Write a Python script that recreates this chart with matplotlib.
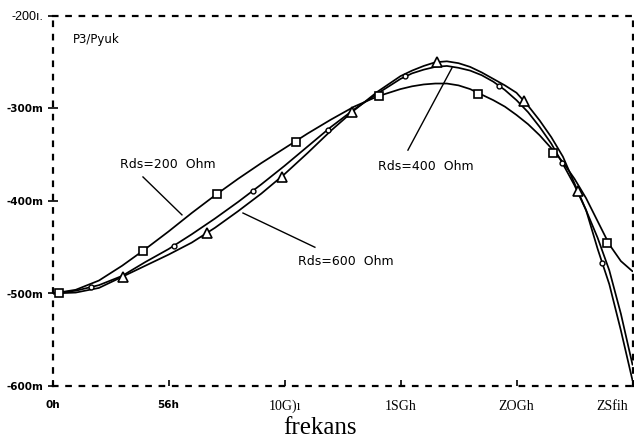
import matplotlib
matplotlib.use("Agg")
import matplotlib.pyplot as plt
from matplotlib.transforms import ScaledTranslation

# Frequency grid (GHz) and traced P3/Pyuk values (m) for each Rds
freq = [0, 1, 2, 3, 4, 5, 6, 7, 8, 9, 10, 11, 12, 13, 14, 15, 15.5, 16, 16.5,
        17, 17.5, 18, 18.5, 19, 19.5, 20, 20.5, 21, 21.5, 22, 22.5, 23, 23.5,
        24, 24.5, 25]
rds200 = [-500, -496, -486, -470, -452, -433, -413, -394, -376, -359, -343,
          -327, -312, -298, -287, -279, -276, -274, -273, -273, -275, -279,
          -285, -291, -298, -307, -317, -329, -343, -358, -376, -397, -422,
          -447, -465, -476]
rds400 = [-500, -497, -491, -481, -466, -452, -436, -419, -401, -382, -362,
          -341, -320, -301, -284, -268, -262, -258, -255, -254, -256, -259,
          -264, -271, -280, -291, -304, -320, -338, -360, -383, -410, -452,
          -490, -540, -594]
rds600 = [-500, -499, -494, -482, -470, -458, -445, -429, -411, -392, -371,
          -348, -324, -302, -282, -265, -259, -254, -250, -249, -251, -255,
          -261, -268, -275, -283, -297, -313, -331, -352, -381, -410, -440,
          -475, -522, -577]

# Marker positions along each trace
sq_f = [0.3, 3.90, 7.09, 10.50, 14.07, 18.34, 21.57, 23.90]
sq_v = [-499, -454, -392, -336, -286, -284, -348, -445]
ci_f = [1.68, 5.22, 8.64, 11.87, 15.20, 19.26, 21.98, 23.70]
ci_v = [-493, -449, -389, -323, -265, -276, -359, -467]
tr_f = [3.02, 6.65, 9.89, 12.91, 16.58, 20.34, 22.63]
tr_v = [-482, -435, -374, -304, -250, -292, -389]

yticks = [-600, -500, -400, -300, -200]
ytick_labels = ["-600m", "-500m", "-400m", "-300m", "-200ı."]
xticks = [0, 5, 10, 15, 20, 25]
xtick_labels = ["0h", "56h", "10G)ı", "1SGh", "ZOGh", "ZSfih"]

fig = plt.figure(figsize=(6.34, 4.44), dpi=100)
ax = fig.add_axes([52.5 / 634, 1 - 386 / 444, 580 / 634, 370 / 444])
ax.set_xlim(0, 25)
ax.set_ylim(-600, -200)

line_kw = dict(color="black", lw=1.25, solid_capstyle="round",
               solid_joinstyle="round")
ax.plot(freq, rds200, **line_kw)
ax.plot(freq, rds400, **line_kw)
ax.plot(freq, rds600, **line_kw)

ax.plot(sq_f, sq_v, "s", ms=6, mfc="white", mec="black", mew=1.2)
ax.plot(ci_f, ci_v, "o", ms=3.5, mfc="white", mec="black", mew=1.0)
ax.plot(tr_f, tr_v, "^", ms=7, mfc="white", mec="black", mew=1.2)

# Dashed plot frame
for side in ["left", "right", "top", "bottom"]:
    sp = ax.spines[side]
    sp.set_linestyle((0, (2, 4)))
    sp.set_linewidth(1.6)
    sp.set_color("black")

ax.set_yticks(yticks)
ax.set_yticklabels(ytick_labels)
ax.set_xticks(xticks)
ax.set_xticklabels(xtick_labels)
ax.tick_params(axis="y", direction="inout", length=7, width=1.2, pad=3)
ax.tick_params(axis="x", direction="in", length=4, width=1.2, pad=10)

for lab in ax.get_yticklabels():
    if lab.get_text().startswith("-200"):
        lab.set_fontfamily("Liberation Sans")
        lab.set_fontsize(9)
    else:
        lab.set_fontfamily("DejaVu Sans")
        lab.set_fontweight("bold")
        lab.set_fontsize(7.5)

xlabs = ax.get_xticklabels()
for i, lab in enumerate(xlabs):
    if i < 2:
        lab.set_fontfamily("DejaVu Sans")
        lab.set_fontweight("bold")
        lab.set_fontsize(7.5)
    else:
        lab.set_fontfamily("Liberation Serif")
        lab.set_fontsize(10)
xlabs[-1].set_horizontalalignment("right")
xlabs[-1].set_transform(xlabs[-1].get_transform()
                        + ScaledTranslation(-4 / 100, 0, fig.dpi_scale_trans))

ax.set_xlabel("frekans", family="Liberation Serif", fontsize=18)
ax.xaxis.set_label_coords((320 - 52.5) / 580, -0.085)

ax.text(0.88, -225, "P3/Pyuk", fontsize=8.5, family="DejaVu Sans",
        ha="left", va="center")

ann_kw = dict(fontsize=9, family="DejaVu Sans", ha="left", va="center")
ax.text(2.91, -361, "Rds=200  Ohm", **ann_kw)
ax.plot([3.90, 5.58], [-374, -415], color="black", lw=1.0)
ax.text(14.03, -363, "Rds=400  Ohm", **ann_kw)
ax.plot([15.32, 17.22], [-345, -256], color="black", lw=1.0)
ax.text(10.58, -465, "Rds=600  Ohm", **ann_kw)
ax.plot([8.21, 11.31], [-413, -450], color="black", lw=1.0)

fig.savefig("out.png", dpi=100)
